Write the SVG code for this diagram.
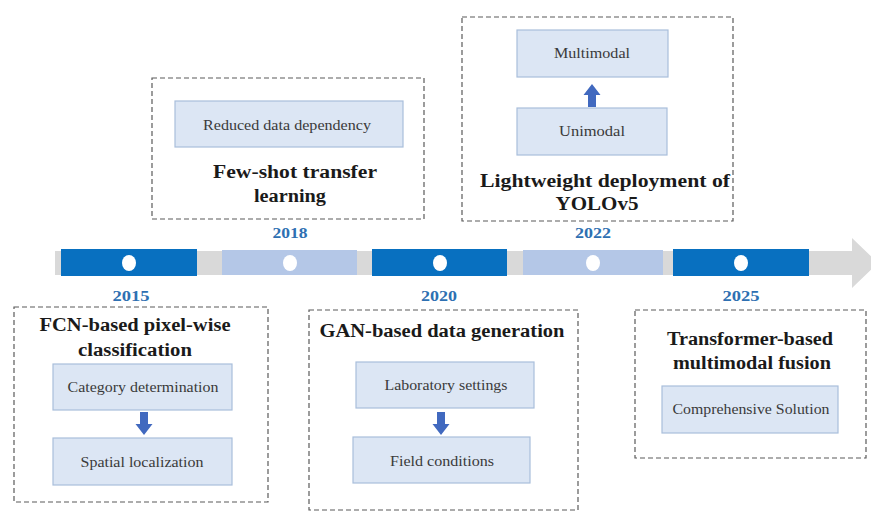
<svg xmlns="http://www.w3.org/2000/svg" width="871" height="514" viewBox="0 0 871 514">
  <style>
    text { font-family: 'Liberation Serif', 'Times New Roman', serif; }
    .frame { fill: #ffffff; stroke: #5a5a5a; stroke-width: 1.2; stroke-dasharray: 5 3; }
    .item { fill: #dce6f4; stroke: #a9bedb; stroke-width: 1.2; }
    .item-text { font-size: 15.5px; fill: #3a3a3a; text-anchor: middle; }
    .title { font-size: 18px; font-weight: bold; fill: #1a1a1a; text-anchor: middle; }
    .year { font-size: 15px; font-weight: bold; fill: #2e70b2; text-anchor: middle; }
    .seg-dark { fill: #0870c0; }
    .seg-light { fill: #b4c7e7; }
    .dot { fill: #ffffff; }
    .step { fill: #4169bf; }
  </style>
  <defs>
    <!-- block arrow pointing down, origin at top centre -->
    <path id="down" d="M -4 0 H 4 V 12 H 8.5 L 0 23 L -8.5 12 H -4 Z"/>
  </defs>
  <rect width="871" height="514" fill="#ffffff"/>

  <!-- timeline band -->
  <g id="timeline">
    <path d="M 55 251 H 852 V 238 L 878 263 L 852 288 V 275 H 55 Z" fill="#d9d9d9"/>
    <rect class="seg-dark" x="61" y="249" width="136" height="27"/>
    <rect class="seg-light" x="222" y="250" width="135" height="25"/>
    <rect class="seg-dark" x="372" y="249" width="135" height="27"/>
    <rect class="seg-light" x="523" y="250" width="140" height="25"/>
    <rect class="seg-dark" x="673" y="249" width="136" height="27"/>
    <ellipse class="dot" cx="129" cy="263" rx="7" ry="8"/>
    <ellipse class="dot" cx="290" cy="263" rx="7" ry="8"/>
    <ellipse class="dot" cx="440" cy="263" rx="7" ry="8"/>
    <ellipse class="dot" cx="593" cy="263" rx="7" ry="8"/>
    <ellipse class="dot" cx="741" cy="263" rx="7" ry="8"/>
    <text class="year" x="131" y="301" textLength="37" lengthAdjust="spacingAndGlyphs">2015</text>
    <text class="year" x="290" y="238" textLength="35" lengthAdjust="spacingAndGlyphs">2018</text>
    <text class="year" x="439" y="301" textLength="36" lengthAdjust="spacingAndGlyphs">2020</text>
    <text class="year" x="593" y="238" textLength="36" lengthAdjust="spacingAndGlyphs">2022</text>
    <text class="year" x="741" y="301" textLength="37" lengthAdjust="spacingAndGlyphs">2025</text>
  </g>

  <!-- 2018 -->
  <g id="few-shot">
    <rect class="frame" x="152" y="78" width="272" height="141"/>
    <rect class="item" x="175" y="101" width="228" height="46"/>
    <text class="item-text" x="287" y="130" textLength="168" lengthAdjust="spacingAndGlyphs">Reduced data dependency</text>
    <text class="title" x="295" y="178" textLength="164" lengthAdjust="spacingAndGlyphs">Few-shot transfer</text>
    <text class="title" x="290" y="202" textLength="72" lengthAdjust="spacingAndGlyphs">learning</text>
  </g>

  <!-- 2022 -->
  <g id="yolo">
    <rect class="frame" x="462" y="17" width="271" height="204"/>
    <rect class="item" x="517" y="30" width="151" height="47"/>
    <text class="item-text" x="592" y="58" textLength="76" lengthAdjust="spacingAndGlyphs">Multimodal</text>
    <rect class="item" x="517" y="108" width="150" height="47"/>
    <text class="item-text" x="592" y="136" textLength="66" lengthAdjust="spacingAndGlyphs">Unimodal</text>
    <text class="title" x="605" y="187" textLength="250" lengthAdjust="spacingAndGlyphs">Lightweight deployment of</text>
    <text class="title" x="597" y="210" textLength="83" lengthAdjust="spacingAndGlyphs">YOLOv5</text>
  </g>

  <!-- 2015 -->
  <g id="fcn">
    <rect class="frame" x="14" y="307" width="254" height="195"/>
    <text class="title" x="135" y="331" textLength="191" lengthAdjust="spacingAndGlyphs">FCN-based pixel-wise</text>
    <text class="title" x="135" y="356" textLength="114" lengthAdjust="spacingAndGlyphs">classification</text>
    <rect class="item" x="53" y="364" width="179" height="46"/>
    <text class="item-text" x="143" y="392" textLength="151" lengthAdjust="spacingAndGlyphs">Category determination</text>
    <rect class="item" x="53" y="438" width="179" height="47"/>
    <text class="item-text" x="142" y="467" textLength="123" lengthAdjust="spacingAndGlyphs">Spatial localization</text>
  </g>

  <!-- 2020 -->
  <g id="gan">
    <rect class="frame" x="309" y="310" width="269" height="200"/>
    <text class="title" x="442" y="337" textLength="245" lengthAdjust="spacingAndGlyphs">GAN-based data generation</text>
    <rect class="item" x="356" y="362" width="178" height="46"/>
    <text class="item-text" x="446" y="390" textLength="123" lengthAdjust="spacingAndGlyphs">Laboratory settings</text>
    <rect class="item" x="353" y="437" width="177" height="46"/>
    <text class="item-text" x="442" y="466" textLength="104" lengthAdjust="spacingAndGlyphs">Field conditions</text>
  </g>

  <!-- 2025 -->
  <g id="transformer">
    <rect class="frame" x="635" y="310" width="231" height="148"/>
    <text class="title" x="750" y="345" textLength="166" lengthAdjust="spacingAndGlyphs">Transformer-based</text>
    <text class="title" x="752" y="369" textLength="158" lengthAdjust="spacingAndGlyphs">multimodal fusion</text>
    <rect class="item" x="662" y="386" width="176" height="47"/>
    <text class="item-text" x="751" y="414" textLength="157" lengthAdjust="spacingAndGlyphs">Comprehensive Solution</text>
  </g>

  <!-- step arrows -->
  <g id="connectors">
    <use href="#down" class="step" transform="translate(144 412)"/>
    <use href="#down" class="step" transform="translate(441 412)"/>
    <use href="#down" class="step" transform="translate(592 107) rotate(180)"/>
  </g>
</svg>
